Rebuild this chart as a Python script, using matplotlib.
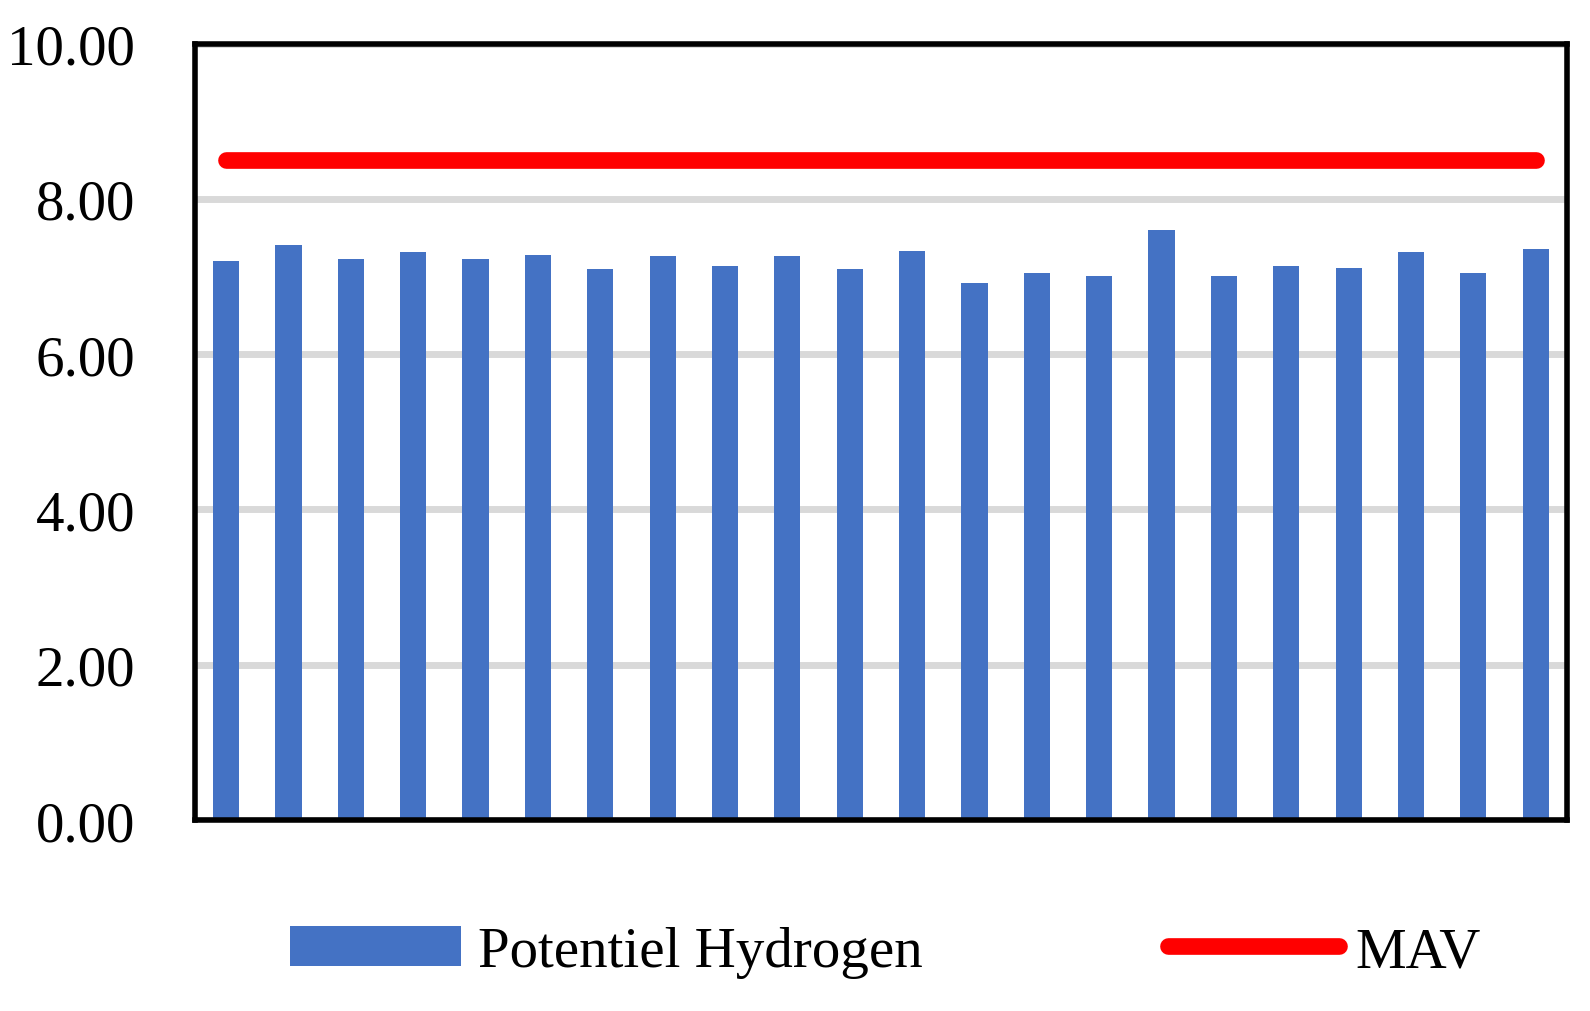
import numpy as np
import matplotlib.pyplot as plt
from matplotlib.patches import Patch
from matplotlib.lines import Line2D

# data
samples = list(range(1, 23))
ph = [7.20, 7.40, 7.23, 7.32, 7.22, 7.28, 7.10, 7.26, 7.13, 7.27, 7.09,
      7.33, 6.92, 7.05, 7.01, 7.60, 7.00, 7.13, 7.11, 7.31, 7.04, 7.35]
mav = [8.5] * len(samples)
yticks = [0, 2, 4, 6, 8, 10]

plt.rcParams['font.family'] = ['Liberation Serif', 'DejaVu Serif']

fig = plt.figure(figsize=(15.9, 10.12), dpi=100)
ax = fig.add_axes([0.1226, 0.1887, 0.8629, 0.7673])

x = np.arange(len(samples))
ax.bar(x, ph, width=0.42, color='#4472C4', zorder=2)
ax.plot(x, mav, color='#FF0000', linewidth=12, solid_capstyle='round', zorder=3)

ax.set_xlim(-0.5, len(samples) - 0.5)
ax.set_ylim(0, 10)
ax.set_yticks(yticks)
ax.set_yticklabels(['%.2f' % v for v in yticks], fontsize=41)
ax.set_xticks([])
ax.tick_params(axis='y', length=0, pad=43)
ax.yaxis.grid(True, color='#D9D9D9', linewidth=5, zorder=1)
ax.set_axisbelow(True)
for s in ax.spines.values():
    s.set_linewidth(4)
    s.set_color('black')

handles = [Patch(facecolor='#4472C4', edgecolor='none'),
           Line2D([0], [0], color='#FF0000', linewidth=12, solid_capstyle='round')]
fig.legend(handles, ['Potentiel Hydrogen', 'MAV'], loc='center',
           bbox_to_anchor=(0.557, 0.058), ncol=2, frameon=False, fontsize=41,
           handlelength=3.0, handleheight=0.7, handletextpad=0.3,
           columnspacing=4.3)

fig.savefig('out.png', dpi=100)
